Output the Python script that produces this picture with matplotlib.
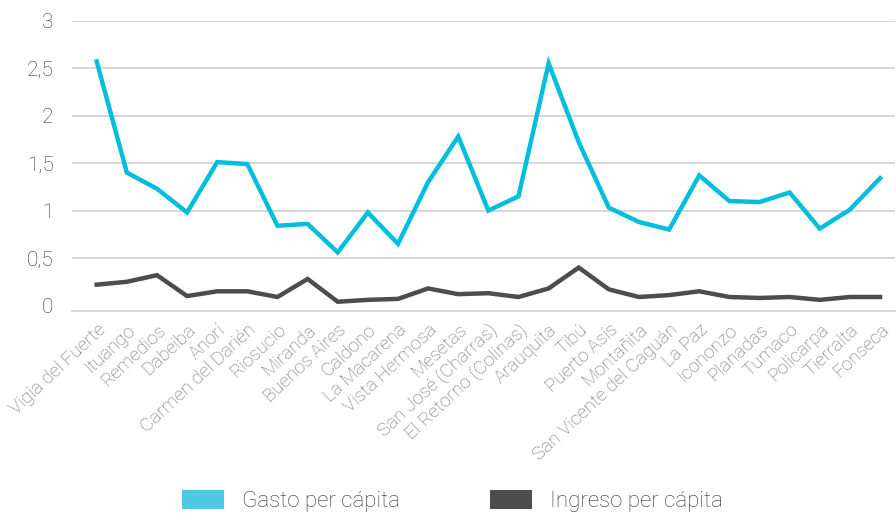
import numpy as np
import matplotlib
matplotlib.use("Agg")
import matplotlib.pyplot as plt
from matplotlib.patches import Patch

municipios = ["Vigia del Fuerte", "Ituango", "Remedios", "Dabeiba", "Anorí",
              "Carmen del Darién", "Riosucio", "Miranda", "Buenos Aires", "Caldono",
              "La Macarena", "Vista Hermosa", "Mesetas", "San José (Charras)",
              "El Retorno (Colinas)", "Arauquita", "Tibú", "Puerto Asís", "Montañita",
              "San Vicente del Caguán", "La Paz", "Icononzo", "Planadas", "Tumaco",
              "Policarpa", "Tierralta", "Fonseca"]
gasto = [2.57, 1.40, 1.23, 0.98, 1.51, 1.49, 0.84, 0.86, 0.56, 0.98,
         0.65, 1.30, 1.78, 1.00, 1.15, 2.55, 1.72, 1.03, 0.88, 0.80,
         1.37, 1.10, 1.09, 1.19, 0.81, 1.01, 1.34]
ingreso = [0.22, 0.25, 0.32, 0.10, 0.15, 0.15, 0.09, 0.28, 0.04, 0.06,
           0.07, 0.18, 0.12, 0.13, 0.09, 0.18, 0.40, 0.17, 0.09, 0.11,
           0.15, 0.09, 0.08, 0.09, 0.06, 0.09, 0.09]
yticks = [0, 0.5, 1, 1.5, 2, 2.5, 3]
ytick_labels = ["0", "0,5", "1", "1,5", "2", "2,5", "3"]

c_gasto = "#00bfdd"
c_ingreso = "#4d4d4d"

plt.rcParams["font.family"] = ["Roboto", "DejaVu Sans"]

fig = plt.figure(figsize=(8.96, 5.15), dpi=100)
ax = fig.add_axes([0.080, 0.396, 0.919, 0.564])

x = np.arange(len(municipios))
for yv in yticks[1:]:
    ax.axhline(yv, color="#d0d0d0", lw=1.2, zorder=0)

ax.plot(x, gasto, color=c_gasto, lw=3.2, solid_joinstyle="miter", zorder=3)
ax.plot(x, ingreso, color=c_ingreso, lw=3.2, solid_joinstyle="miter", zorder=3)

ax.set_xlim(-0.83, 26.5)
ax.set_ylim(-0.058, 3.0)

for s in ["top", "right", "left"]:
    ax.spines[s].set_visible(False)
ax.spines["bottom"].set_color("#d0d0d0")
ax.spines["bottom"].set_linewidth(1.2)

ax.set_yticks(yticks)
ax.set_yticklabels(ytick_labels, fontsize=15, color="#333333", fontweight="light")
ax.tick_params(axis="y", length=0, pad=13)

ax.set_xticks(x)
ax.set_xticklabels(municipios, rotation=43, ha="right", va="top",
                   rotation_mode="anchor", fontsize=13.5, color="#6e6e6e",
                   fontweight="light")
ax.tick_params(axis="x", length=0, pad=7)

handles = [Patch(facecolor="#4fc9e3", edgecolor="none"),
           Patch(facecolor=c_ingreso, edgecolor="none")]
fig.legend(handles, ["Gasto per cápita", "Ingreso per cápita"],
           loc="center", bbox_to_anchor=(452 / 896, 1 - 501 / 515), ncol=2,
           frameon=False, prop={"size": 16, "weight": "light"},
           handlelength=1.89, handleheight=0.95, handletextpad=0.81,
           columnspacing=4.05, labelcolor="#333333")

fig.savefig("out.png", dpi=100)
